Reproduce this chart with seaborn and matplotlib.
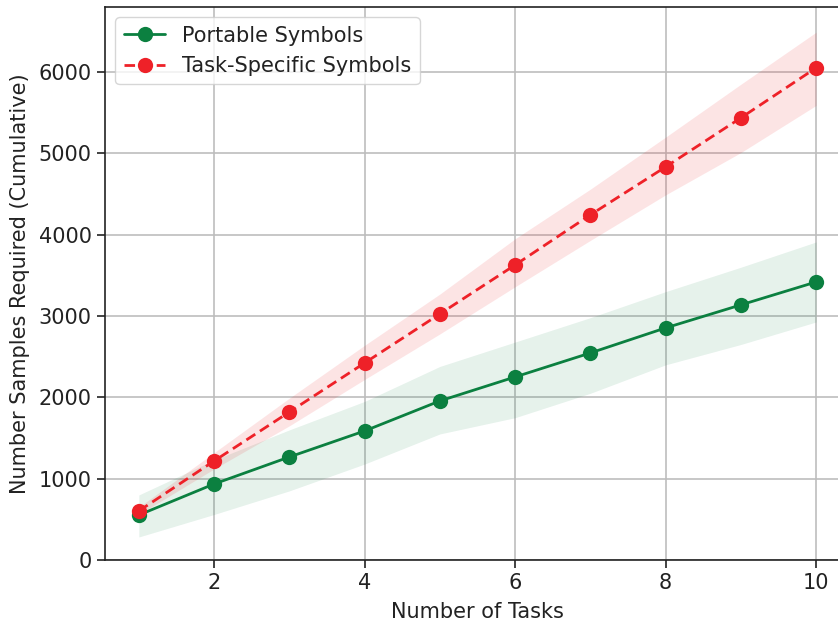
import matplotlib
matplotlib.use('Agg')
import matplotlib.pyplot as plt
import seaborn as sns
import pandas as pd

# Values
tasks = [1, 2, 3, 4, 5, 6, 7, 8, 9, 10]

portable_mean = [553, 935, 1267, 1587, 1956, 2251, 2546, 2854, 3137, 3419]
portable_low = [283, 560, 850, 1180, 1550, 1750, 2050, 2400, 2650, 2927]
portable_high = [800, 1230, 1600, 1950, 2380, 2680, 2980, 3300, 3600, 3911]

specific_mean = [603, 1218, 1820, 2423, 3026, 3628, 4244, 4834, 5437, 6052]
specific_low = [560, 1120, 1650, 2220, 2780, 3360, 3930, 4490, 5010, 5590]
specific_high = [650, 1320, 1990, 2640, 3270, 3950, 4560, 5200, 5850, 6490]

green = '#0b8040'
red = '#ee2128'

sns.set_style('ticks')
plt.rcParams['font.family'] = ['DejaVu Sans']

df = pd.DataFrame({
    'tasks': tasks * 2,
    'samples': portable_mean + specific_mean,
    'kind': ['Portable Symbols'] * len(tasks) + ['Task-Specific Symbols'] * len(tasks),
})

fig = plt.figure(figsize=(8.38, 6.24), dpi=100)
# the original was cropped tight, so the right side of the axes runs off the figure
ax = fig.add_axes([105 / 838, 64 / 624, 745 / 838, 553 / 624])

ax.fill_between(tasks, portable_low, portable_high, color=green, alpha=0.1, linewidth=0)
ax.fill_between(tasks, specific_low, specific_high, color=red, alpha=0.12, linewidth=0)

sns.lineplot(data=df, x='tasks', y='samples', hue='kind', style='kind',
             palette=[green, red], dashes=[(None, None), (3.8, 2)],
             markers=['o', 'o'], markersize=11, markeredgewidth=0,
             linewidth=2, ax=ax)

ax.set_xlim(0.55, 10.45)
ax.set_ylim(0, 6800)
ax.set_xticks([2, 4, 6, 8, 10])
ax.set_yticks([0, 1000, 2000, 3000, 4000, 5000, 6000])
ax.grid(True, color='#bdbdbd', linewidth=1.2)
ax.set_axisbelow(True)
for s in ax.spines.values():
    s.set_color('#222222')
    s.set_linewidth(1.2)
ax.spines['right'].set_visible(False)
ax.tick_params(labelsize=15, length=6, width=1.2, colors='#222222')

ax.set_xlabel('Number of Tasks', fontsize=15, color='#222222', labelpad=6)
ax.set_ylabel('Number Samples Required (Cumulative)', fontsize=15, color='#222222', labelpad=6)

leg = ax.legend(loc='upper left', fontsize=15, title=None, borderaxespad=0.5)
for t in leg.get_texts():
    t.set_color('#222222')

fig.savefig('out.png', dpi=100)
